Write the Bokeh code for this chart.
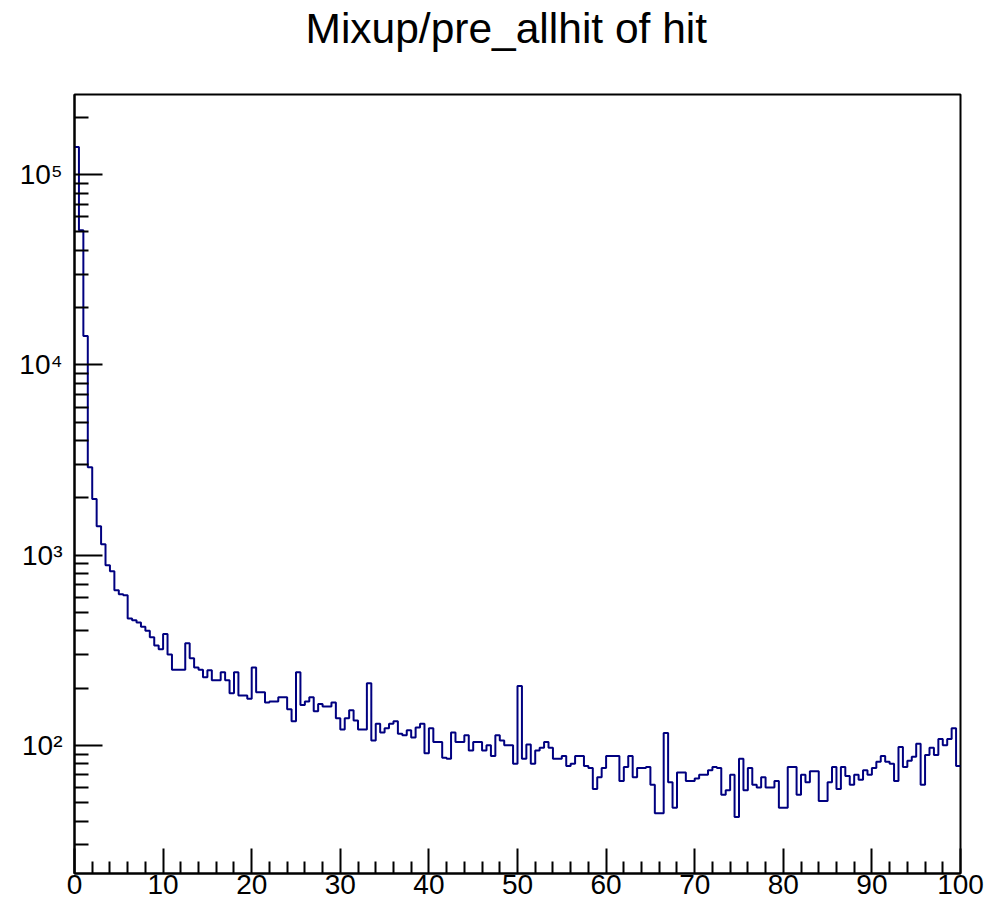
import numpy as np
from bokeh.plotting import figure
from bokeh.models import FixedTicker, Range1d, ColumnDataSource, Title
from bokeh.embed import file_html
from bokeh.resources import INLINE

# ---------------- data ----------------
title_text = "Mixup/pre_allhit of hit"
x_min, x_max, n_bins = 0.0, 100.0, 200

counts = [
    140000, 51000, 14200, 2900, 1970, 1420, 1140, 885, 824, 654,
    623, 615, 465, 455, 443, 420, 400, 370, 335, 320,
    385, 300, 250, 250, 250, 344, 287, 257, 250, 228,
    248, 220, 220, 242, 220, 188, 242, 183, 183, 176,
    257, 190, 190, 168, 170, 170, 179, 179, 155, 134,
    242, 163, 170, 179, 151, 165, 160, 160, 168, 139,
    121, 139, 153, 135, 121, 121, 212, 106, 130, 117,
    123, 130, 134, 115, 113, 120, 110, 124, 130, 91,
    123, 104, 104, 86, 85, 117, 104, 104, 113, 94,
    104, 104, 94, 100, 88, 113, 106, 100, 100, 80,
    205, 85, 101, 80, 94, 97, 104, 97, 85, 85,
    88, 78, 80, 88, 88, 78, 76, 59, 68, 76,
    88, 88, 88, 65, 77, 88, 68, 76, 76, 77,
    62, 44, 44, 116, 64, 47, 72, 72, 65, 65,
    67, 70, 70, 74, 77, 76, 55, 58, 70, 42,
    85, 58, 76, 62, 60, 68, 60, 60, 65, 47,
    47, 77, 77, 55, 70, 64, 73, 73, 51, 51,
    64, 77, 59, 77, 69, 62, 70, 66, 74, 70,
    76, 82, 88, 82, 80, 65, 98, 77, 83, 87,
    102, 62, 89, 97, 89, 108, 100, 108, 123, 78,
]

x_major_ticks = [0, 10, 20, 30, 40, 50, 60, 70, 80, 90, 100]
x_minor_ticks = [2, 4, 6, 8, 12, 14, 16, 18, 22, 24, 26, 28, 32, 34, 36, 38,
                 42, 44, 46, 48, 52, 54, 56, 58, 62, 64, 66, 68, 72, 74, 76, 78,
                 82, 84, 86, 88, 92, 94, 96, 98]
y_major_ticks = [100, 1000, 10000, 100000]
y_major_labels = ["10\u00b2", "10\u00b3", "10\u2074", "10\u2075"]
y_minor_ticks = [30, 40, 50, 60, 70, 80, 90,
                 200, 300, 400, 500, 600, 700, 800, 900,
                 2000, 3000, 4000, 5000, 6000, 7000, 8000, 9000,
                 20000, 30000, 40000, 50000, 60000, 70000, 80000, 90000,
                 200000]
y_min, y_max = 21.2, 264000

# ---------------- build ----------------
edges = np.linspace(x_min, x_max, n_bins + 1)
step_y = list(counts) + [counts[-1]]
src = ColumnDataSource(dict(x=edges, y=step_y))

FONT = "Liberation Sans"

p = figure(width=990, height=907,
           x_range=Range1d(x_min, x_max), y_range=Range1d(y_min, y_max),
           y_axis_type="log", output_backend="svg", toolbar_location=None,
           min_border_left=74, min_border_right=30, min_border_top=94,
           min_border_bottom=34)

p.step(x="x", y="y", source=src, mode="after", line_color="#000080", line_width=2)

p.grid.visible = False
p.background_fill_color = "white"
p.border_fill_color = "white"
p.outline_line_color = "black"
p.outline_line_width = 2
p.outline_line_alpha = 1.0

# spacer between frame and title, so the title sits near the top of the canvas
spacer = Title(text=" ", text_font_size="1px", standoff=34)
p.add_layout(spacer, "above")

p.title.text = title_text
p.title.align = "left"
p.title.offset = 231
p.title.vertical_align = "top"
p.title.text_font = FONT
p.title.text_font_size = "42.5px"
p.title.text_font_style = "normal"
p.title.text_color = "black"
p.title.standoff = 8

xa = p.xaxis[0]
xa.ticker = FixedTicker(ticks=x_major_ticks, minor_ticks=x_minor_ticks)
xa.major_tick_in = 25
xa.major_tick_out = 0
xa.minor_tick_in = 12
xa.minor_tick_out = 0
xa.major_label_standoff = 1
xa.major_label_text_font_size = "28px"

ya = p.yaxis[0]
ya.ticker = FixedTicker(ticks=y_major_ticks, minor_ticks=y_minor_ticks)
ya.major_label_overrides = {t: lab for t, lab in zip(y_major_ticks, y_major_labels)}
ya.major_tick_in = 28
ya.major_tick_out = 0
ya.minor_tick_in = 14
ya.minor_tick_out = 0
ya.major_label_standoff = 12
ya.major_label_text_font_size = "28px"

for ax in (xa, ya):
    ax.axis_line_width = 2
    ax.axis_line_color = "black"
    ax.major_tick_line_width = 2
    ax.minor_tick_line_width = 2
    ax.major_tick_line_color = "black"
    ax.minor_tick_line_color = "black"
    ax.major_label_text_font = FONT
    ax.major_label_text_color = "black"

open("out.html", "w").write(file_html(p, INLINE))
